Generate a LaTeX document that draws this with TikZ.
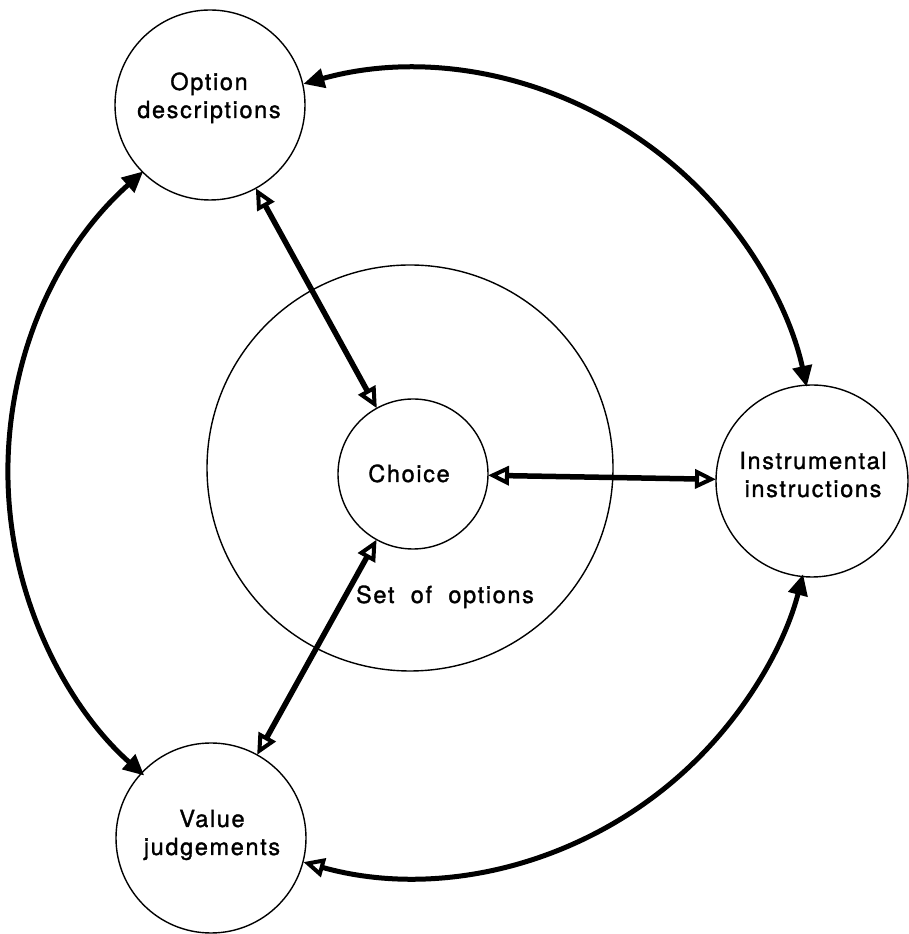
\documentclass[tikz,border=0pt]{standalone}
\usepackage{fontspec}
\setmainfont{TeX Gyre Heros}[LetterSpace=7,FakeBold=1.3]
\usetikzlibrary{arrows.meta}
\tikzset{
  ringnode/.style={draw, circle, line width=1.4pt, inner sep=0pt, outer sep=0pt},
  lbl/.style={align=center, anchor=base, inner sep=0pt, font=\fontsize{23.5}{28}\selectfont},
  link/.style={line width=5.5pt, {Triangle[open,length=21pt,width=19pt,line width=4pt]}-{Triangle[open,length=21pt,width=19pt,line width=4pt]}},
  bow/.style={line width=5pt},
}
\begin{document}
\begin{tikzpicture}[x=1pt,y=1pt]
\useasboundingbox (0,0) rectangle (909,934);
% circles
\node[ringnode, minimum size=406pt] (set) at (410,466) {};
\node[ringnode, minimum size=190pt] (opt) at (210,829) {};
\node[ringnode, minimum size=150pt] (choice) at (413,460) {};
\node[ringnode, minimum size=192pt] (instr) at (812,453) {};
\node[ringnode, minimum size=190pt] (val) at (211,96) {};
% labels (anchor at baseline of last line)
\node[lbl] (optl) at (209,816) {Option\\descriptions};
\node[lbl] (choicel) at (409,452) {Choice};
\node[lbl] (instrl) at (813,437) {Instrumental\\instructions};
\node[lbl] (vall) at (212,79) {Value\\judgements};
\node[lbl] (setl) at (445,331) {Set\ \ of\ \ options};
% straight links
\draw[link] (opt) -- (choice);
\draw[link] (choice) -- (val);
\draw[link] (choice) -- (instr);
% outer arcs
\coordinate (O) at (412,461);
\draw[bow, {Triangle[length=21pt,width=19pt]}-{Triangle[length=21pt,width=19pt]}]
  (O) ++(105.6:404pt) arc[start angle=105.6, end angle=12.3, radius=404pt];
\draw[bow, {Triangle[length=21pt,width=19pt]}-{Triangle[length=21pt,width=19pt]}]
  (O) ++(131.7:404pt) arc[start angle=131.7, end angle=228.5, radius=404pt];
\draw[bow, {Triangle[open,length=21pt,width=19pt,line width=4pt]}-{Triangle[length=21pt,width=19pt]}]
  (O) ++(254.4:404pt) arc[start angle=254.4, end angle=345.5, radius=404pt];
\end{tikzpicture}
\end{document}
